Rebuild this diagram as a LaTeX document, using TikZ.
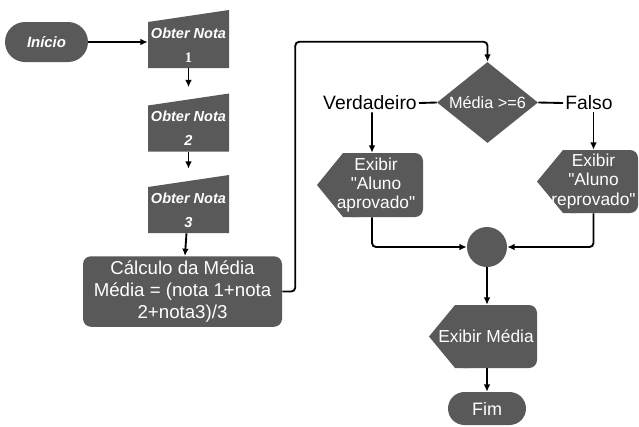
\documentclass[tikz,border=0pt]{standalone}
\usepackage{fontspec}
\setmainfont{Liberation Sans}[Ligatures=TeXOff]
\newfontfamily\numfont{Liberation Serif}
\usetikzlibrary{arrows.meta,positioning,shapes.geometric}
\definecolor{boxfill}{RGB}{89,89,89}

\begin{document}
\begin{tikzpicture}[
      x=0.75pt,y=-0.75pt,
      term/.style={rectangle,fill=boxfill,inner sep=0pt,text=white},
      readbox/.style={rectangle,inner sep=0pt,minimum width=60.75pt,minimum height=43.5pt,
                      path picture={\fill[boxfill]
                        ([yshift=-9pt]path picture bounding box.north west)
                        -- (path picture bounding box.north east)
                        -- (path picture bounding box.south east)
                        -- (path picture bounding box.south west) -- cycle;}},
      readtext/.style={text=white,align=center,yshift=-4.5pt,
                       font=\bfseries\itshape\fontsize{10.9}{18}\selectfont},
      calcbox/.style={rectangle,fill=boxfill,rounded corners=6pt,text=white,align=center,
                      minimum width=149.25pt,minimum height=50.25pt,
                      font=\fontsize{14}{16.5}\selectfont},
      decision/.style={diamond,aspect=1.25,fill=boxfill,inner sep=0pt,text=white,
                       minimum width=75.75pt,minimum height=60.75pt,
                       font=\fontsize{12.2}{14}\selectfont},
      branch/.style={inner sep=1.5pt,font=\fontsize{14.5}{17}\selectfont},
      showbox/.style={rectangle,inner sep=0pt,
                      path picture={
                        \fill[boxfill,rounded corners=6pt]
                          ([xshift=19.5pt]path picture bounding box.north west)
                          rectangle (path picture bounding box.south east);
                        \fill[boxfill] (path picture bounding box.west)
                          -- ([xshift=19.5pt]path picture bounding box.north west)
                          -- ([xshift=30pt]path picture bounding box.north west)
                          -- ([xshift=30pt]path picture bounding box.south west)
                          -- ([xshift=19.5pt]path picture bounding box.south west) -- cycle;}},
      showtext/.style={text=white,align=center,xshift=4.5pt,
                       font=\fontsize{13}{14.5}\selectfont},
      joint/.style={circle,fill=boxfill,inner sep=0pt,minimum size=30pt},
      arrow/.style={-{Latex[length=5.5pt,width=5pt]},line width=1.4pt,draw=black},
      plain/.style={line width=1.4pt},
      toslant/.style={shorten >=4.5pt}
    ]
    \useasboundingbox (0,0) rectangle (639,426);

    % Start and reading of the grades
    \node[term,rounded corners=15pt,minimum width=62.25pt,minimum height=30pt,
          font=\bfseries\itshape\fontsize{11.2}{13}\selectfont] (ini) at (46.5,42) {Início};
    \node[readbox,label={[readtext]center:{Obter Nota\\{\numfont\upshape 1}}}] (n1) at (188.5,39) {};
    \node[readbox,label={[readtext]center:{Obter Nota\\2}}] (n2) at (188.5,122.5) {};
    \node[readbox,label={[readtext]center:{Obter Nota\\3}}] (n3) at (188.5,204) {};

    % Average
    \node[calcbox] (calc) at (182.5,291.5) {Cálculo da Média\\Média = (nota 1+nota\\2+nota3)/3};

    % Decision and outputs
    \node[decision] (dec) at (487.5,102.5) {Média >=6};
    \node[branch,anchor=east] (verd) at (419,103) {Verdadeiro};
    \node[branch,anchor=west] (falso) at (563,103) {Falso};
    \node[showbox,minimum width=79.5pt,minimum height=48pt,
          label={[showtext]center:{Exibir\\"Aluno\\aprovado"}}] (apr) at (370,185) {};
    \node[showbox,minimum width=75.75pt,minimum height=47.25pt,
          label={[showtext]center:{Exibir\\"Aluno\\reprovado"}}] (rep) at (587.5,181.5) {};
    \node[joint] (merge) at (487,247) {};
    \node[showbox,minimum width=81pt,minimum height=47.25pt,
          label={[showtext,xshift=-2.25pt]center:{Exibir Média}}] (media) at (483,336.5) {};
    \node[term,rounded corners=12.375pt,minimum width=58.5pt,minimum height=24.75pt,
          font=\fontsize{13.5}{16}\selectfont] (fim) at (487,408.5) {Fim};

    % Connectors
    \draw[arrow] (ini) -- (ini -| n1.west);
    \draw[arrow,toslant] (n1) -- (n2);
    \draw[arrow,toslant] (n2) -- (n3);
    \draw[arrow] (n3) -- (calc);
    \draw[arrow,rounded corners=3pt] (calc.east) -- ++(13,0) |- ([yshift=15pt]dec.north) -- (dec.north);
    \draw[plain] (dec.west) -- (verd.east);
    \draw[plain] (dec.east) -- (falso.west);
    \draw[arrow] ([xshift=1.5pt]verd.south) -- ([xshift=1.5pt]apr.north);
    \draw[arrow] ([xshift=4.5pt]falso.south -| rep.north) -- ([xshift=4.5pt]rep.north);
    \draw[arrow,rounded corners=3pt] ([xshift=1.5pt]apr.south) |- (merge.west);
    \draw[arrow,rounded corners=3pt] ([xshift=4.5pt]rep.south) |- (merge.east);
    \draw[arrow] (merge.south) -- (merge.south |- media.north);
    \draw[arrow] (fim.north |- media.south) -- (fim.north);

  \end{tikzpicture}
\end{document}
